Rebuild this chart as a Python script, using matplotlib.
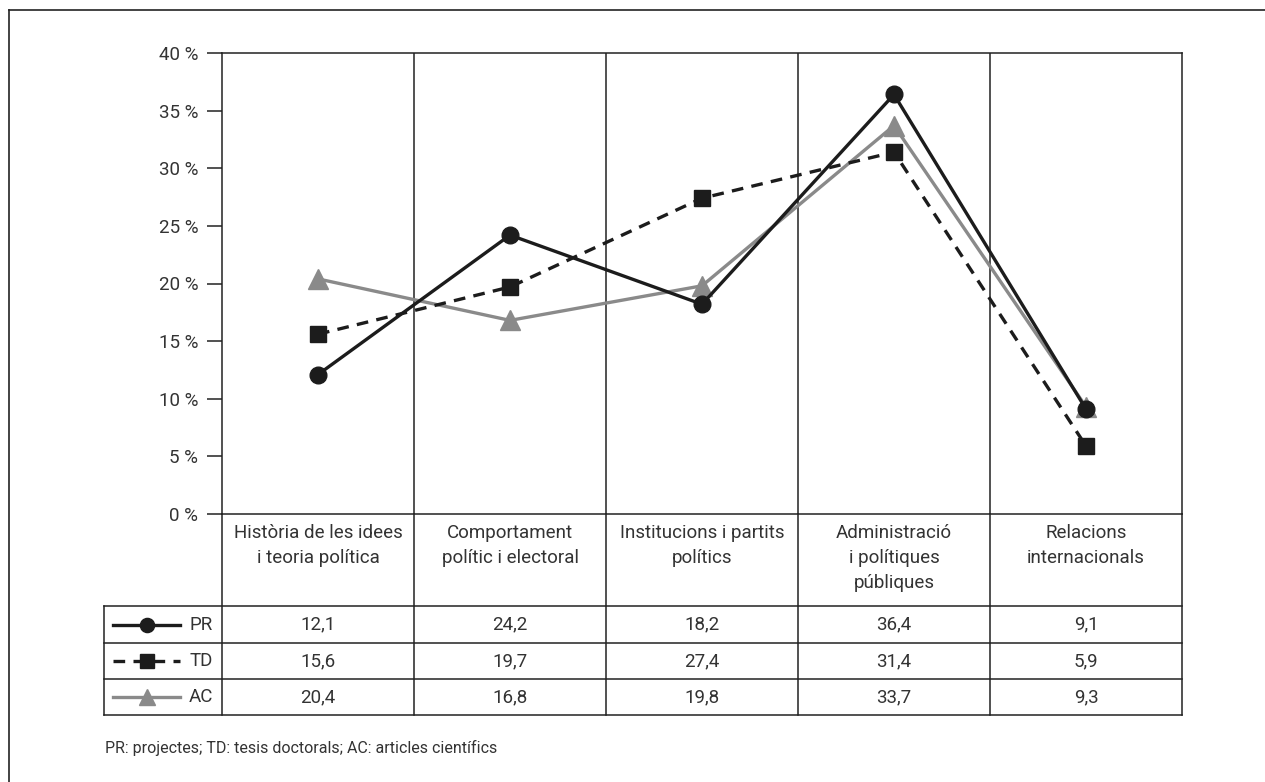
import matplotlib
matplotlib.use('Agg')
import matplotlib.pyplot as plt
from matplotlib.lines import Line2D

plt.rcParams['font.family'] = ['Roboto', 'DejaVu Sans']
plt.rcParams['font.weight'] = 'normal'

categories = ['Història de les idees\ni teoria política',
              'Comportament\npolític i electoral',
              'Institucions i partits\npolítics',
              'Administració\ni polítiques\npúbliques',
              'Relacions\ninternacionals']
series_names = ['PR', 'TD', 'AC']
pr_values = [12.1, 24.2, 18.2, 36.4, 9.1]
td_values = [15.6, 19.7, 27.4, 31.4, 5.9]
ac_values = [20.4, 16.8, 19.8, 33.7, 9.3]
y_ticks = [0, 5, 10, 15, 20, 25, 30, 35, 40]
footnote = 'PR: projectes; TD: tesis doctorals; AC: articles científics'

W, H = 1265, 782
TXT = '#333333'
FS = 13.5
styles = {
    'PR': dict(color='#1c1c1c', ls='-', marker='o', ms=12),
    'TD': dict(color='#1c1c1c', ls=(0, (3.5, 2.5)), marker='s', ms=11.5),
    'AC': dict(color='#8a8a8a', ls='-', marker='^', ms=14),
}
values = {'PR': pr_values, 'TD': td_values, 'AC': ac_values}

fig = plt.figure(figsize=(W / 100, H / 100), dpi=100)

# outer frame (left and top only)
fig.add_artist(Line2D([9 / W, 9 / W], [0, 1 - 10 / H], color='#222', lw=1.2))
fig.add_artist(Line2D([9 / W, 1], [1 - 10 / H, 1 - 10 / H], color='#222', lw=1.2))

# main chart
ax = fig.add_axes([222 / W, 1 - 514 / H, 960 / W, 461 / H])
n = len(categories)
xs = [i + 0.5 for i in range(n)]
for name in ['AC', 'TD', 'PR']:
    st = styles[name]
    ax.plot(xs, values[name], color=st['color'], linestyle=st['ls'], lw=2.4,
            marker=st['marker'], markersize=st['ms'], zorder=3)
ax.set_xlim(0, n)
ax.set_ylim(0, 40)
for i in range(1, n):
    ax.axvline(i, color='#222', lw=1.1)
ax.set_xticks([])
ax.set_yticks(y_ticks)
ax.set_yticklabels([f'{t} %' for t in y_ticks], fontsize=FS, color=TXT)
ax.tick_params(axis='y', length=11, width=1.1, color='#222', pad=6)
for s in ax.spines.values():
    s.set_linewidth(1.1)
    s.set_color('#222')

# category labels and data table, drawn in pixel coordinates
tb = fig.add_axes([104 / W, 1 - 715 / H, 1078 / W, 201 / H])
tb.set_xlim(104, 1182)
tb.set_ylim(715, 514)
tb.axis('off')
col_x = [222 + 192 * i for i in range(n + 1)]
row_y = [606, 643, 679, 715]
for x in col_x:
    tb.plot([x, x], [514, 715], color='#222', lw=1.1, clip_on=False)
tb.plot([104, 104], [606, 715], color='#222', lw=1.1, clip_on=False)
for y in row_y:
    tb.plot([104, 1182], [y, y], color='#222', lw=1.1, clip_on=False)

for i, cat in enumerate(categories):
    tb.text(col_x[i] + 96, 524, cat, ha='center', va='top', fontsize=FS,
            color=TXT, linespacing=1.5)

for r, name in enumerate(series_names):
    yc = (row_y[r] + row_y[r + 1]) / 2
    st = styles[name]
    tb.plot([113, 146.5, 180], [yc, yc, yc], color=st['color'], linestyle=st['ls'],
            lw=2.4, marker=st['marker'], markersize=st['ms'] * 0.85, markevery=[1],
            clip_on=False)
    tb.text(213, yc, name, ha='right', va='center', fontsize=FS, color=TXT)
    for i, v in enumerate(values[name]):
        tb.text(col_x[i] + 96, yc, f'{v:.1f}'.replace('.', ','), ha='center',
                va='center', fontsize=FS, color=TXT)

fig.text(105 / W, 1 - 748 / H, footnote, ha='left', va='center', fontsize=11.5,
         color=TXT)

fig.savefig('out.png', dpi=100)
